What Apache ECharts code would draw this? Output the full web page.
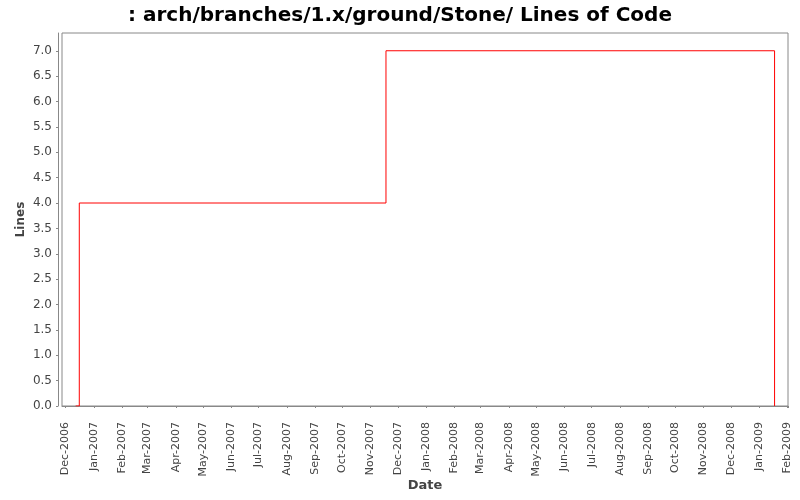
<!DOCTYPE html>
<html>
<head>
<meta charset="utf-8">
<script src="https://cdn.jsdelivr.net/npm/echarts@6/dist/echarts.min.js"></script>
<style>html,body{margin:0;padding:0;background:#fff;}#c{width:800px;height:500px;}</style>
</head>
<body>
<div id="c"></div>
<script>
const titleText = ': arch/branches/1.x/ground/Stone/ Lines of Code';
const dates = ['2006-12-12', '2006-12-16', '2007-11-18', '2009-01-18'];
const lines = [0, 4, 7, 0];
const monthNames = ['Jan','Feb','Mar','Apr','May','Jun','Jul','Aug','Sep','Oct','Nov','Dec'];
const xMin = '2006-11-27';
const xMax = '2009-02-01T18:00:00Z';

const toTs = s => Date.parse(s.length === 10 ? s + 'T00:00:00Z' : s);
const data = dates.map((d, i) => [toTs(d), lines[i]]);

const chart = echarts.init(document.getElementById('c'), null, {renderer: 'canvas'});
chart.setOption({
  useUTC: true,
  animation: false,
  backgroundColor: '#ffffff',
  title: {
    text: titleText,
    left: 'center',
    top: 1,
    textStyle: {fontFamily: 'DejaVu Sans', fontWeight: 'bold', fontSize: 20, color: '#000'}
  },
  grid: {
    left: 62, right: 12, top: 33, bottom: 94,
    outerBoundsMode: 'none',
    containLabel: false,
    show: true, borderColor: '#888888', borderWidth: 1, backgroundColor: '#ffffff'
  },
  xAxis: {
    type: 'time',
    min: toTs(xMin),
    max: toTs(xMax),
    offset: 4,
    minInterval: 28 * 86400000,
    maxInterval: 31 * 86400000,
    name: 'Date',
    nameLocation: 'middle',
    nameGap: 69,
    nameMoveOverlap: false,
    nameTextStyle: {fontFamily: 'DejaVu Sans', fontWeight: 'bold', fontSize: 13, color: '#444'},
    axisLine: {show: true, lineStyle: {color: '#888888', width: 1}},
    axisTick: {show: true, length: 2, lineStyle: {color: '#888888'}},
    splitLine: {show: false},
    axisLabel: {
      rotate: 90,
      margin: 12,
      fontFamily: 'DejaVu Sans',
      fontSize: 11,
      color: '#444444',
      hideOverlap: false,
      showMinLabel: false,
      showMaxLabel: true,
      formatter: function (v) {
        const d = new Date(v);
        if (d.getUTCDate() !== 1 || d.getUTCHours() !== 0) return '';
        return monthNames[d.getUTCMonth()] + '-' + d.getUTCFullYear();
      }
    }
  },
  yAxis: {
    type: 'value',
    min: 0,
    max: 7.35,
    interval: 0.5,
    offset: 4,
    name: 'Lines',
    nameLocation: 'middle',
    nameGap: 31,
    nameMoveOverlap: false,
    nameTextStyle: {fontFamily: 'DejaVu Sans', fontWeight: 'bold', fontSize: 12, color: '#444'},
    axisLine: {show: true, lineStyle: {color: '#888888', width: 1}},
    axisTick: {show: true, length: 2, lineStyle: {color: '#888888'}},
    splitLine: {show: false},
    axisLabel: {
      margin: 6,
      fontFamily: 'DejaVu Sans',
      fontSize: 12,
      color: '#444444',
      showMaxLabel: false,
      formatter: v => v.toFixed(1)
    }
  },
  series: [{
    type: 'line',
    step: 'end',
    data: data,
    showSymbol: false,
    symbol: 'none',
    lineStyle: {color: '#ff0000', width: 1},
    itemStyle: {color: '#ff0000'}
  }]
});
</script>
</body>
</html>
